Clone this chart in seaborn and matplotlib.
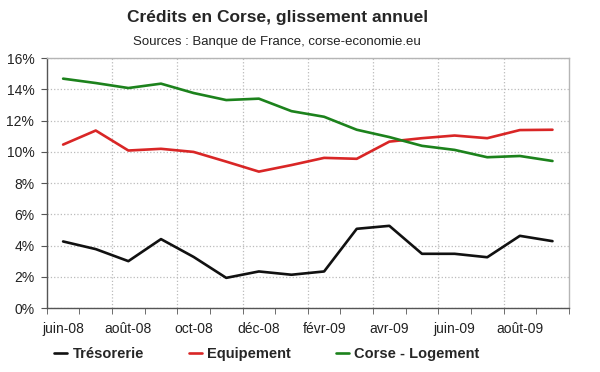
import pandas as pd
import matplotlib.pyplot as plt
import seaborn as sns

# Données (glissement annuel, en %)
mois = ['juin-08', 'juil-08', 'août-08', 'sept-08', 'oct-08', 'nov-08', 'déc-08', 'janv-09',
        'févr-09', 'mars-09', 'avr-09', 'mai-09', 'juin-09', 'juil-09', 'août-09', 'sept-09']
tresorerie = [4.26, 3.77, 3.00, 4.41, 3.27, 1.93, 2.34, 2.13, 2.34, 5.07, 5.26, 3.47, 3.47, 3.25, 4.62, 4.28]
equipement = [10.46, 11.36, 10.08, 10.19, 9.99, 9.37, 8.73, 9.15, 9.61, 9.55, 10.65, 10.87, 11.04, 10.87, 11.39, 11.41]
logement = [14.68, 14.40, 14.08, 14.36, 13.76, 13.31, 13.40, 12.60, 12.24, 11.41, 10.94, 10.38, 10.12, 9.65, 9.73, 9.41]

series = ['Trésorerie', 'Equipement', 'Corse - Logement']
couleurs = ['#111111', '#d92626', '#1c821c']
graduations_y = [0, 2, 4, 6, 8, 10, 12, 14, 16]

# Tableau long pour seaborn
df = pd.DataFrame({
    'pos': list(range(len(mois))) * 3,
    'serie': [s for s in series for _ in mois],
    'valeur': tresorerie + equipement + logement,
})

sns.set_style("white")
plt.rcParams['font.family'] = ['Liberation Sans', 'DejaVu Sans']

fig = plt.figure(figsize=(6, 3.72), dpi=100)
ax = fig.add_axes([0.078, 0.172, 0.87, 0.672])

sns.lineplot(data=df, x='pos', y='valeur', hue='serie', hue_order=series,
             palette=dict(zip(series, couleurs)), linewidth=1.9, ax=ax)

# --- Axes ---
ax.set_xlim(-0.5, len(mois) - 0.5)
ax.set_ylim(0, 16)
ax.set_xlabel('')
ax.set_ylabel('')

ax.set_yticks(graduations_y)
ax.set_yticklabels([f'{v}%' for v in graduations_y])
ax.set_xticks(range(0, len(mois), 2))
ax.set_xticklabels(mois[::2])
ax.set_xticks([i - 0.5 for i in range(len(mois) + 1)], minor=True)

ax.tick_params(axis='x', which='major', length=0, pad=10, labelsize=10, colors='#222222')
ax.tick_params(axis='x', which='minor', length=4, direction='out', color='#555555', bottom=True)
ax.tick_params(axis='y', length=4, direction='out', color='#555555', left=True,
               labelsize=10, colors='#222222', pad=5)

# Quadrillage pointillé
ax.yaxis.grid(True, linestyle=':', color='#bbbbbb', linewidth=0.9)
for xg in [1.5, 3.5, 5.5, 7.5, 9.5, 11.5, 13.5]:
    ax.axvline(xg, linestyle=':', color='#bbbbbb', linewidth=0.9, zorder=0)
ax.set_axisbelow(True)

for cote in ['left', 'bottom']:
    ax.spines[cote].set_color('#555555')
    ax.spines[cote].set_linewidth(1)
for cote in ['top', 'right']:
    ax.spines[cote].set_color('#b5b5b5')
    ax.spines[cote].set_linewidth(1)

# --- Légende en bas ---
handles, labels = ax.get_legend_handles_labels()
ax.get_legend().remove()
fig.legend(handles, labels, loc='center', bbox_to_anchor=(0.445, 0.048), ncol=3,
           frameon=False, prop={'weight': 'bold', 'size': 10.5},
           handlelength=0.9, handletextpad=0.35, columnspacing=3.1)

# --- Titres ---
fig.text(0.463, 0.952, 'Crédits en Corse, glissement annuel', ha='center', va='center',
         fontsize=12.5, fontweight='bold')
fig.text(0.462, 0.888, 'Sources : Banque de France, corse-economie.eu', ha='center', va='center',
         fontsize=9.5, color='#222222')

plt.savefig('out.png', dpi=100)
